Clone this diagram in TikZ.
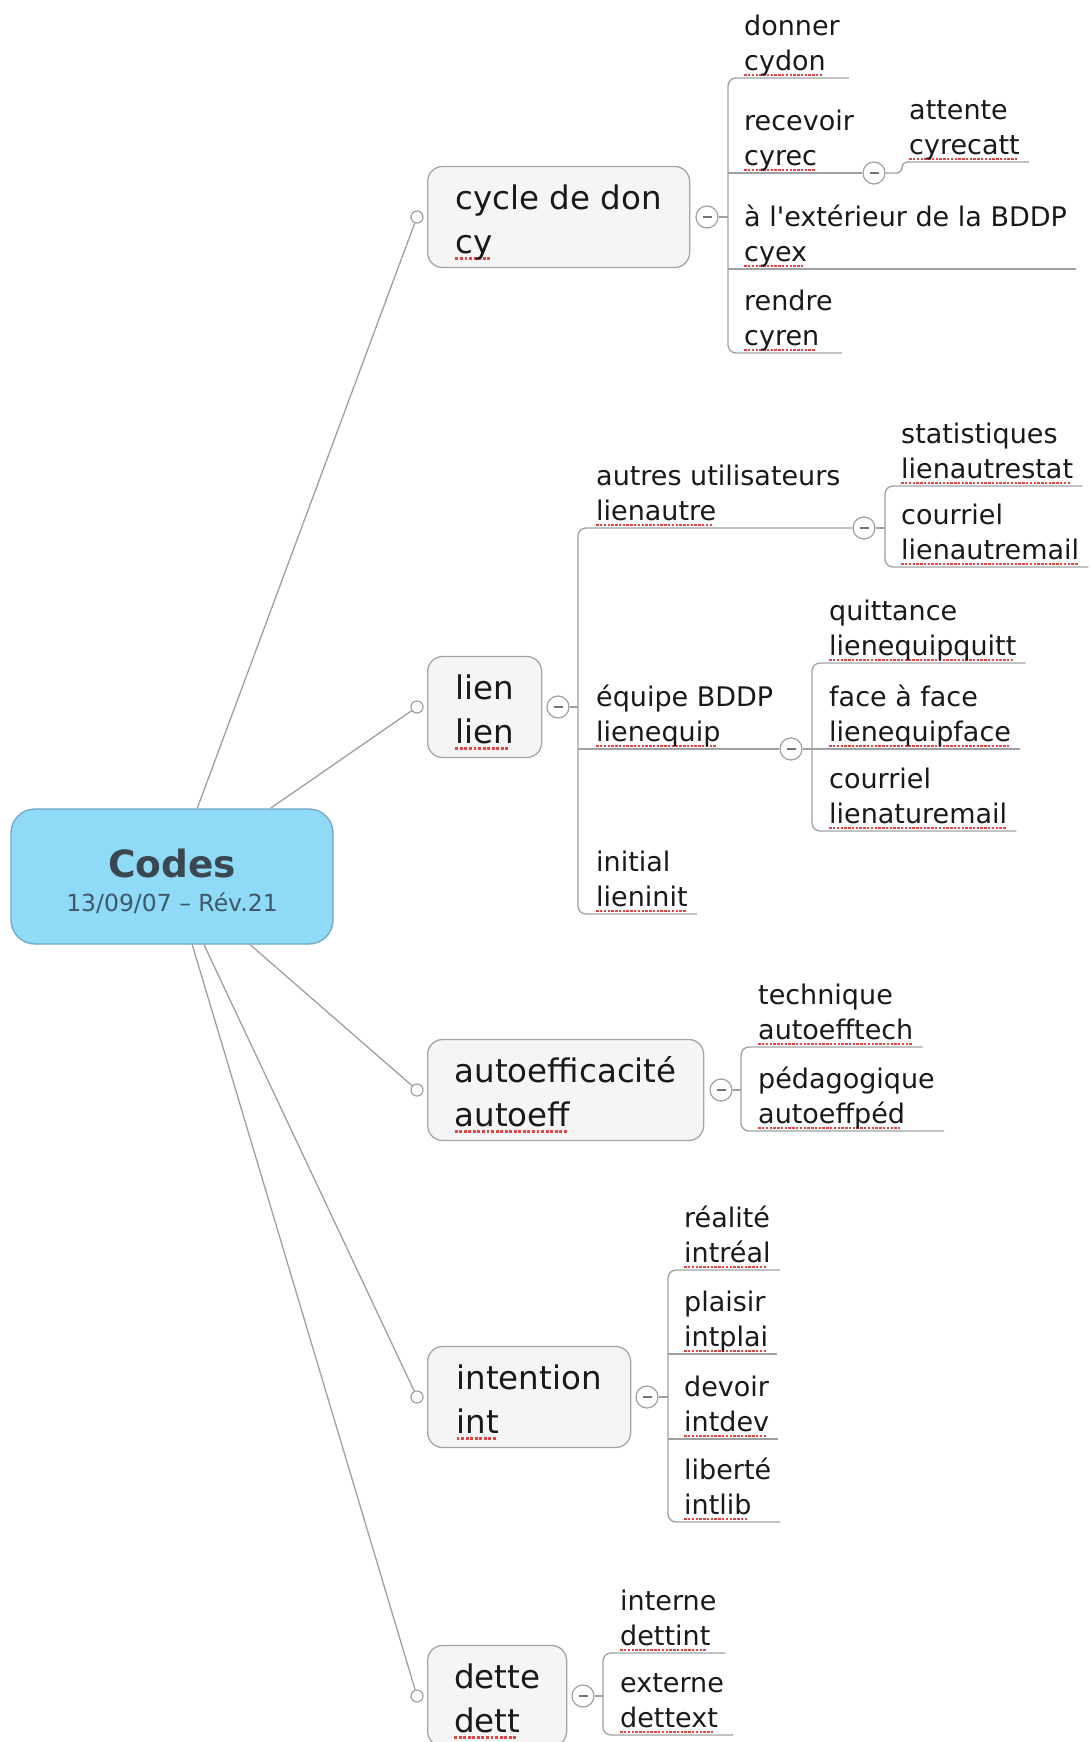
\documentclass[tikz,border=0pt]{standalone}
\usepackage{fontspec}
\setmainfont{DejaVu Sans}[Ligatures=TeXOff]
\usetikzlibrary{calc}
\definecolor{centralfill}{RGB}{143,218,246}
\definecolor{centralborder}{RGB}{112,168,196}
\definecolor{titlecol}{RGB}{58,70,80}
\definecolor{datecol}{RGB}{62,88,104}
\definecolor{boxfill}{RGB}{245,245,245}
\definecolor{boxborder}{RGB}{165,165,165}
\definecolor{linegray}{RGB}{160,160,160}
\definecolor{txt}{RGB}{25,25,25}
\definecolor{sqred}{RGB}{222,70,70}
\newsavebox\sqbox
\newcommand\squig[1]{\sbox\sqbox{#1}\rlap{\lower0.2em\hbox to \wd\sqbox{\color{sqred}\leaders\hbox{\rule{0.09em}{0.09em}\kern0.05em}\hfill}}#1}
\newcommand\lstrut{\rule[-7pt]{0pt}{1pt}}
\newcommand\tstrut{\rule{0pt}{42pt}}
\newcommand\topicfont{\fontsize{32.5pt}{44pt}\selectfont}
\newcommand\leaffont{\fontsize{27pt}{35pt}\selectfont}
\newcommand\datefont{\fontsize{23.5pt}{34pt}\selectfont}
\newcommand\titlefont{\fontsize{37.5pt}{34pt}\selectfont\bfseries\color{titlecol}}
\tikzset{
  conn/.style={draw=linegray, line width=1.3pt},
  central/.style={rectangle, rounded corners=24pt, draw=centralborder, line width=1.3pt,
    fill=centralfill, minimum width=322pt, minimum height=135pt, align=center,
    font=\datefont, text=datecol},
  topic/.style={rectangle, rounded corners=15pt, draw=boxborder, line width=1.3pt,
    fill=boxfill, inner xsep=26pt, inner ysep=0pt, minimum height=101pt, align=left,
    font=\topicfont, text=txt, anchor=west},
  leaf/.style={inner sep=0pt, align=left, font=\leaffont, text=txt, anchor=south west},
  attach/.style={circle, draw=linegray, line width=1.2pt, fill=white, minimum size=12pt, inner sep=0pt},
  collapse/.style={circle, draw=linegray, line width=1.2pt, fill=white, minimum size=22pt,
    inner sep=0pt, path picture={\draw[black!55, line width=1.3pt]
      ([xshift=-4.5pt]path picture bounding box.center) -- ([xshift=4.5pt]path picture bounding box.center);}},
}
\begin{document}
\begin{tikzpicture}[x=1pt,y=-1pt]
\useasboundingbox (0,0) rectangle (1091,1742);
\clip (0,0) rectangle (1091,1742);
\fill[white] (0,0) rectangle (1091,1742);

% central node
\node[central] (c) at (172,876.5) {\rule{0pt}{38pt}{\titlefont Codes}\\13/09/07 – Rév.21};

% topics
\node[topic, minimum width=262pt] (t1) at (427,217) {\tstrut cycle de don\\\squig{cy}\strut};
\node[topic, minimum width=114pt] (t2) at (427,707) {\tstrut lien\\\squig{lien}\strut};
\node[topic, minimum width=276pt] (t3) at (427,1090) {\tstrut autoefficacité\\\squig{autoeff}\strut};
\node[topic, minimum width=203pt] (t4) at (427,1397) {\tstrut intention\\\squig{int}\strut};
\node[topic, minimum width=139pt] (t5) at (427,1696) {\tstrut dette\\\squig{dett}\strut};

\node[attach] (a1) at (417,217) {};
\node[attach] (a2) at (417,707) {};
\node[attach] (a3) at (417,1090) {};
\node[attach] (a4) at (417,1397) {};
\node[attach] (a5) at (417,1696) {};

\node[collapse] (k1) at (707,217) {};
\node[collapse] (k2) at (558,707) {};
\node[collapse] (k3) at (721,1090) {};
\node[collapse] (k4) at (647,1397) {};
\node[collapse] (k5) at (583,1696) {};

\draw[conn] (c) -- (a1);
\draw[conn] (c) -- (a2);
\draw[conn] (c) -- (a3);
\draw[conn] (c) -- (a4);
\draw[conn] (c) -- (a5);

% ---------- cycle de don ----------
\coordinate (b1) at (728,217);
\node[leaf] (l11) at (744,78) {donner\\\squig{cydon}\lstrut};
\node[leaf] (l12) at (744,173) {recevoir\\\squig{cyrec}\lstrut};
\node[leaf] (l13) at (744,269) {à l'extérieur de la BDDP\\\squig{cyex}\lstrut};
\node[leaf] (l14) at (744,353) {rendre\\\squig{cyren}\lstrut};
\node[collapse] (k12) at (874,173) {};
\coordinate (b12) at (902,173);
\node[leaf] (l121) at (909,162) {attente\\\squig{cyrecatt}\lstrut};

\draw[conn] (k1) -- (k1 -| b1);
\draw[conn, rounded corners=8pt] ([xshift=9pt]l11.south east) -- (l11.south -| b1) -- (l14.south -| b1) -- ([xshift=9pt]l14.south east);
\draw[conn] (l12.south -| b1) -- (k12);
\draw[conn] (l13.south -| b1) -- ([xshift=9pt]l13.south east);
\draw[conn, rounded corners=5pt] (k12) -- (b12) -- (b12 |- l121.south) -- ([xshift=9pt]l121.south east);

% ---------- lien ----------
\coordinate (b2) at (578,707);
\node[leaf] (l21) at (596,528) {autres utilisateurs\\\squig{lienautre}\lstrut};
\node[leaf] (l22) at (596,749) {équipe BDDP\\\squig{lienequip}\lstrut};
\node[leaf] (l23) at (596,914) {initial\\\squig{lieninit}\lstrut};
\node[collapse] (k21) at (864,528) {};
\node[collapse] (k22) at (791,749) {};
\coordinate (b21) at (885,528);
\coordinate (b22) at (812,749);
\node[leaf] (l211) at (901,486) {statistiques\\\squig{lienautrestat}\lstrut};
\node[leaf] (l212) at (901,567) {courriel\\\squig{lienautremail}\lstrut};
\node[leaf] (l221) at (829,663) {quittance\\\squig{lienequipquitt}\lstrut};
\node[leaf] (l222) at (829,749) {face à face\\\squig{lienequipface}\lstrut};
\node[leaf] (l223) at (829,831) {courriel\\\squig{lienaturemail}\lstrut};

\draw[conn] (k2) -- (k2 -| b2);
\draw[conn, rounded corners=8pt] (k21) -- (l21.south -| b2) -- (l23.south -| b2) -- ([xshift=9pt]l23.south east);
\draw[conn] (l22.south -| b2) -- (k22);
\draw[conn] (k21) -- (b21);
\draw[conn, rounded corners=8pt] ([xshift=9pt]l211.south east) -- (l211.south -| b21) -- (l212.south -| b21) -- ([xshift=9pt]l212.south east);
\draw[conn] (k22) -- (b22);
\draw[conn, rounded corners=8pt] ([xshift=9pt]l221.south east) -- (l221.south -| b22) -- (l223.south -| b22) -- ([xshift=9pt]l223.south east);
\draw[conn] (b22) -- ([xshift=9pt]l222.south east);

% ---------- autoefficacite ----------
\coordinate (b3) at (741,1090);
\node[leaf] (l31) at (758,1047) {technique\\\squig{autoefftech}\lstrut};
\node[leaf] (l32) at (758,1131) {pédagogique\\\squig{autoeffpéd}\lstrut};
\draw[conn] (k3) -- (b3);
\draw[conn, rounded corners=8pt] ([xshift=9pt]l31.south east) -- (l31.south -| b3) -- (l32.south -| b3) -- ([xshift=9pt]l32.south east);

% ---------- intention ----------
\coordinate (b4) at (668,1397);
\node[leaf] (l41) at (684,1270) {réalité\\\squig{intréal}\lstrut};
\node[leaf] (l42) at (684,1354) {plaisir\\\squig{intplai}\lstrut};
\node[leaf] (l43) at (684,1439) {devoir\\\squig{intdev}\lstrut};
\node[leaf] (l44) at (684,1522) {liberté\\\squig{intlib}\lstrut};
\draw[conn] (k4) -- (b4);
\draw[conn, rounded corners=8pt] ([xshift=9pt]l41.south east) -- (l41.south -| b4) -- (l44.south -| b4) -- ([xshift=9pt]l44.south east);
\draw[conn] (l42.south -| b4) -- ([xshift=9pt]l42.south east);
\draw[conn] (l43.south -| b4) -- ([xshift=9pt]l43.south east);

% ---------- dette ----------
\coordinate (b5) at (603,1696);
\node[leaf] (l51) at (620,1653) {interne\\\squig{dettint}\lstrut};
\node[leaf] (l52) at (620,1735) {externe\\\squig{dettext}\lstrut};
\draw[conn] (k5) -- (b5);
\draw[conn, rounded corners=8pt] ([xshift=9pt]l51.south east) -- (l51.south -| b5) -- (l52.south -| b5) -- ([xshift=9pt]l52.south east);
\end{tikzpicture}
\end{document}
